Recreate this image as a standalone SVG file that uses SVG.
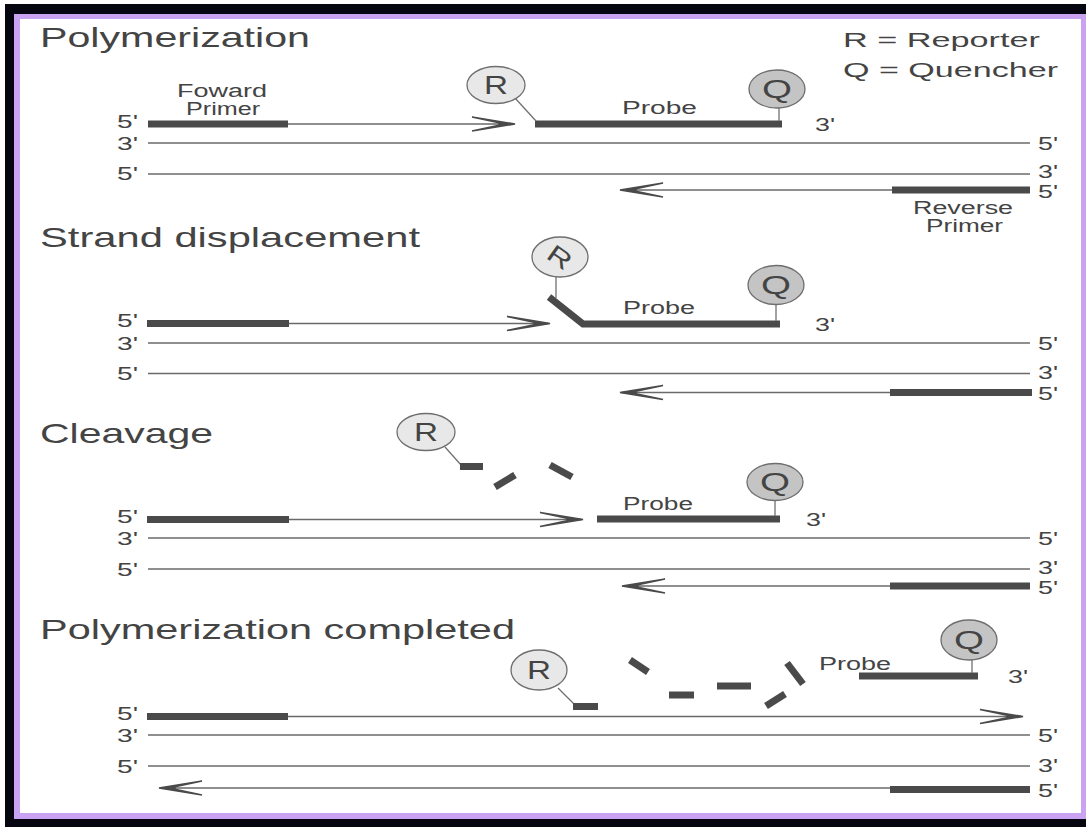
<svg xmlns="http://www.w3.org/2000/svg" width="1086" height="827" viewBox="0 0 1086 827">
<style>
.t{font-family:"Liberation Sans",Arial,sans-serif;fill:#444444}
.ttl{font-size:28px}
.lbl{font-size:17.5px}
.sm{font-size:18px}
.cl{font-size:25px;text-anchor:middle}
.thin{stroke:#6a6a6a;stroke-width:1.6;fill:none}
.thick{stroke:#4a4a4a;stroke-width:7;fill:none}
.frag{stroke:#4a4a4a;stroke-width:7;fill:none}
.stk{stroke:#707070;stroke-width:1.3;fill:none}
.rc{fill:#e8e8e8;stroke:#6e6e6e;stroke-width:1.3}
.qc{fill:#c4c4c4;stroke:#6e6e6e;stroke-width:1.3}
.ah{fill:#4a4a4a;stroke:#4a4a4a;stroke-width:1.6;stroke-linejoin:miter}
</style>
<defs>
<path id="ahR" d="M0,0 L-43,-7 L-16,-1.2 L-16,1.2 L-43,7 Z"/>
</defs>
<rect x="0" y="0" width="1086" height="827" fill="#ffffff"/>
<rect x="5" y="4" width="1081" height="823" fill="#05060f"/>
<rect x="14" y="14" width="1072" height="805" fill="#c9a3f2"/>
<rect x="20" y="19" width="1061" height="794" fill="#ffffff"/>

<g id="legend">
<text class="t" x="843" y="47" font-size="21" textLength="197" lengthAdjust="spacingAndGlyphs">R = Reporter</text>
<text class="t" x="843" y="77" font-size="21" textLength="215" lengthAdjust="spacingAndGlyphs">Q = Quencher</text>
</g>

<g id="titles">
<text class="t ttl" x="40" y="47" textLength="270" lengthAdjust="spacingAndGlyphs">Polymerization</text>
<text class="t ttl" x="40" y="247" textLength="380" lengthAdjust="spacingAndGlyphs">Strand displacement</text>
<text class="t ttl" x="40" y="443" textLength="173" lengthAdjust="spacingAndGlyphs">Cleavage</text>
<text class="t ttl" x="40" y="639" textLength="475" lengthAdjust="spacingAndGlyphs">Polymerization completed</text>
</g>

<g id="connectors">
<line class="thin" x1="288" y1="124" x2="513" y2="124"/>
<use href="#ahR" class="ah" transform="translate(515,124)"/>
<line class="thin" x1="148" y1="143" x2="1030" y2="143"/>
<line class="thin" x1="148" y1="174" x2="1030" y2="174"/>
<line class="thin" x1="622" y1="190" x2="892" y2="190"/>
<use href="#ahR" class="ah" transform="translate(620,190) scale(-1,1)"/>
<line class="thin" x1="289" y1="323.5" x2="548" y2="323.5"/>
<use href="#ahR" class="ah" transform="translate(550,323.5)"/>
<line class="thin" x1="148" y1="343" x2="1030" y2="343"/>
<line class="thin" x1="148" y1="373.5" x2="1030" y2="373.5"/>
<line class="thin" x1="622" y1="392.5" x2="890" y2="392.5"/>
<use href="#ahR" class="ah" transform="translate(620,392.5) scale(-1,1)"/>
<line class="thin" x1="289" y1="519.5" x2="581" y2="519.5"/>
<use href="#ahR" class="ah" transform="translate(583,519.5)"/>
<line class="thin" x1="148" y1="538" x2="1030" y2="538"/>
<line class="thin" x1="148" y1="569" x2="1030" y2="569"/>
<line class="thin" x1="624" y1="586" x2="890" y2="586"/>
<use href="#ahR" class="ah" transform="translate(622,586) scale(-1,1)"/>
<line class="thin" x1="288" y1="716.5" x2="1021" y2="716.5"/>
<use href="#ahR" class="ah" transform="translate(1023,716.5)"/>
<line class="thin" x1="148" y1="735" x2="1030" y2="735"/>
<line class="thin" x1="148" y1="766" x2="1030" y2="766"/>
<line class="thin" x1="161" y1="788" x2="890" y2="788"/>
<use href="#ahR" class="ah" transform="translate(159,788) scale(-1,1)"/>
</g>

<g id="panel1">
<line class="thick" x1="148" y1="124" x2="288" y2="124"/>
<text class="t sm" x="177" y="97" textLength="90" lengthAdjust="spacingAndGlyphs">Foward</text>
<text class="t sm" x="186" y="115" textLength="74" lengthAdjust="spacingAndGlyphs">Primer</text>
<line class="thick" x1="535" y1="124" x2="782" y2="124"/>
<line class="stk" x1="515" y1="98" x2="536" y2="121"/>
<ellipse class="rc" cx="496" cy="85" rx="29" ry="18.5"/>
<text class="t cl" x="496" y="94" textLength="24" lengthAdjust="spacingAndGlyphs">R</text>
<line class="stk" x1="779" y1="108" x2="779" y2="121"/>
<ellipse class="qc" cx="777" cy="89" rx="28" ry="19"/>
<text class="t cl" x="777" y="98" textLength="30" lengthAdjust="spacingAndGlyphs">Q</text>
<text class="t sm" x="622" y="114" textLength="75" lengthAdjust="spacingAndGlyphs">Probe</text>
<text class="t lbl" x="815" y="131" textLength="20" lengthAdjust="spacingAndGlyphs">3'</text>
<line class="thick" x1="892" y1="190" x2="1030" y2="190"/>
<text class="t sm" x="913" y="214" textLength="100" lengthAdjust="spacingAndGlyphs">Reverse</text>
<text class="t sm" x="926" y="232" textLength="77" lengthAdjust="spacingAndGlyphs">Primer</text>
<text class="t lbl" x="117" y="128" textLength="21" lengthAdjust="spacingAndGlyphs">5'</text>
<text class="t lbl" x="117" y="150" textLength="21" lengthAdjust="spacingAndGlyphs">3'</text>
<text class="t lbl" x="117" y="180" textLength="21" lengthAdjust="spacingAndGlyphs">5'</text>
<text class="t lbl" x="1038" y="150" textLength="20" lengthAdjust="spacingAndGlyphs">5'</text>
<text class="t lbl" x="1038" y="178" textLength="20" lengthAdjust="spacingAndGlyphs">3'</text>
<text class="t lbl" x="1038" y="198" textLength="20" lengthAdjust="spacingAndGlyphs">5'</text>
</g>

<g id="panel2">
<line class="thick" x1="147" y1="323.5" x2="289" y2="323.5"/>
<polyline class="thick" points="549,297 583,324 780,324" stroke-linejoin="miter"/>
<line class="stk" x1="556" y1="277" x2="556" y2="298"/>
<ellipse class="rc" cx="560" cy="257" rx="28" ry="20"/>
<text class="t cl" x="560" y="266" textLength="24" lengthAdjust="spacingAndGlyphs" transform="rotate(35 560 257)">R</text>
<line class="stk" x1="776" y1="304" x2="776" y2="321"/>
<ellipse class="qc" cx="776" cy="285" rx="28" ry="19.5"/>
<text class="t cl" x="776" y="294" textLength="30" lengthAdjust="spacingAndGlyphs">Q</text>
<text class="t sm" x="623" y="314" textLength="72" lengthAdjust="spacingAndGlyphs">Probe</text>
<text class="t lbl" x="815" y="331" textLength="20" lengthAdjust="spacingAndGlyphs">3'</text>
<line class="thick" x1="890" y1="392.5" x2="1032" y2="392.5"/>
<text class="t lbl" x="117" y="327" textLength="21" lengthAdjust="spacingAndGlyphs">5'</text>
<text class="t lbl" x="117" y="350" textLength="21" lengthAdjust="spacingAndGlyphs">3'</text>
<text class="t lbl" x="117" y="380" textLength="21" lengthAdjust="spacingAndGlyphs">5'</text>
<text class="t lbl" x="1038" y="350" textLength="20" lengthAdjust="spacingAndGlyphs">5'</text>
<text class="t lbl" x="1038" y="379" textLength="20" lengthAdjust="spacingAndGlyphs">3'</text>
<text class="t lbl" x="1038" y="400" textLength="20" lengthAdjust="spacingAndGlyphs">5'</text>
</g>

<g id="panel3">
<line class="thick" x1="147" y1="519.5" x2="289" y2="519.5"/>
<line class="thick" x1="597" y1="519" x2="780" y2="519"/>
<line class="stk" x1="445" y1="447" x2="461" y2="465"/>
<ellipse class="rc" cx="426" cy="432" rx="29" ry="18.5"/>
<text class="t cl" x="426" y="441" textLength="24" lengthAdjust="spacingAndGlyphs">R</text>
<line class="frag" x1="460" y1="466.5" x2="483" y2="466.5"/>
<line class="frag" x1="495" y1="487" x2="515" y2="475"/>
<line class="frag" x1="550" y1="465" x2="572" y2="477"/>
<line class="stk" x1="775" y1="500" x2="775" y2="516"/>
<ellipse class="qc" cx="775" cy="482" rx="28" ry="18.5"/>
<text class="t cl" x="775" y="491" textLength="30" lengthAdjust="spacingAndGlyphs">Q</text>
<text class="t sm" x="623" y="510" textLength="70" lengthAdjust="spacingAndGlyphs">Probe</text>
<text class="t lbl" x="806" y="526" textLength="20" lengthAdjust="spacingAndGlyphs">3'</text>
<line class="thick" x1="890" y1="586" x2="1030" y2="586"/>
<text class="t lbl" x="117" y="523" textLength="21" lengthAdjust="spacingAndGlyphs">5'</text>
<text class="t lbl" x="117" y="545" textLength="21" lengthAdjust="spacingAndGlyphs">3'</text>
<text class="t lbl" x="117" y="576" textLength="21" lengthAdjust="spacingAndGlyphs">5'</text>
<text class="t lbl" x="1038" y="545" textLength="20" lengthAdjust="spacingAndGlyphs">5'</text>
<text class="t lbl" x="1038" y="574" textLength="20" lengthAdjust="spacingAndGlyphs">3'</text>
<text class="t lbl" x="1038" y="594" textLength="20" lengthAdjust="spacingAndGlyphs">5'</text>
</g>

<g id="panel4">
<line class="thick" x1="147" y1="716.5" x2="288" y2="716.5"/>
<line class="stk" x1="558" y1="688" x2="574" y2="704"/>
<ellipse class="rc" cx="539" cy="670" rx="28" ry="20"/>
<text class="t cl" x="539" y="679" textLength="24" lengthAdjust="spacingAndGlyphs">R</text>
<line class="frag" x1="573" y1="706.5" x2="598" y2="706.5"/>
<line class="frag" x1="630" y1="660" x2="648" y2="672"/>
<line class="frag" x1="669" y1="695" x2="694" y2="695"/>
<line class="frag" x1="717" y1="686" x2="751" y2="686"/>
<line class="frag" x1="766" y1="706" x2="785" y2="694"/>
<line class="frag" x1="787" y1="663" x2="803" y2="684"/>
<line class="thick" x1="859" y1="676" x2="978" y2="676"/>
<line class="stk" x1="972" y1="660" x2="972" y2="673"/>
<ellipse class="qc" cx="969" cy="640" rx="28" ry="20"/>
<text class="t cl" x="969" y="649" textLength="30" lengthAdjust="spacingAndGlyphs">Q</text>
<text class="t sm" x="819" y="670" textLength="72" lengthAdjust="spacingAndGlyphs">Probe</text>
<text class="t lbl" x="1008" y="683" textLength="20" lengthAdjust="spacingAndGlyphs">3'</text>
<line class="thick" x1="890" y1="789.5" x2="1030" y2="789.5"/>
<text class="t lbl" x="117" y="720" textLength="21" lengthAdjust="spacingAndGlyphs">5'</text>
<text class="t lbl" x="117" y="742" textLength="21" lengthAdjust="spacingAndGlyphs">3'</text>
<text class="t lbl" x="117" y="773" textLength="21" lengthAdjust="spacingAndGlyphs">5'</text>
<text class="t lbl" x="1038" y="742" textLength="20" lengthAdjust="spacingAndGlyphs">5'</text>
<text class="t lbl" x="1038" y="772" textLength="20" lengthAdjust="spacingAndGlyphs">3'</text>
<text class="t lbl" x="1038" y="797" textLength="20" lengthAdjust="spacingAndGlyphs">5'</text>
</g>
</svg>
